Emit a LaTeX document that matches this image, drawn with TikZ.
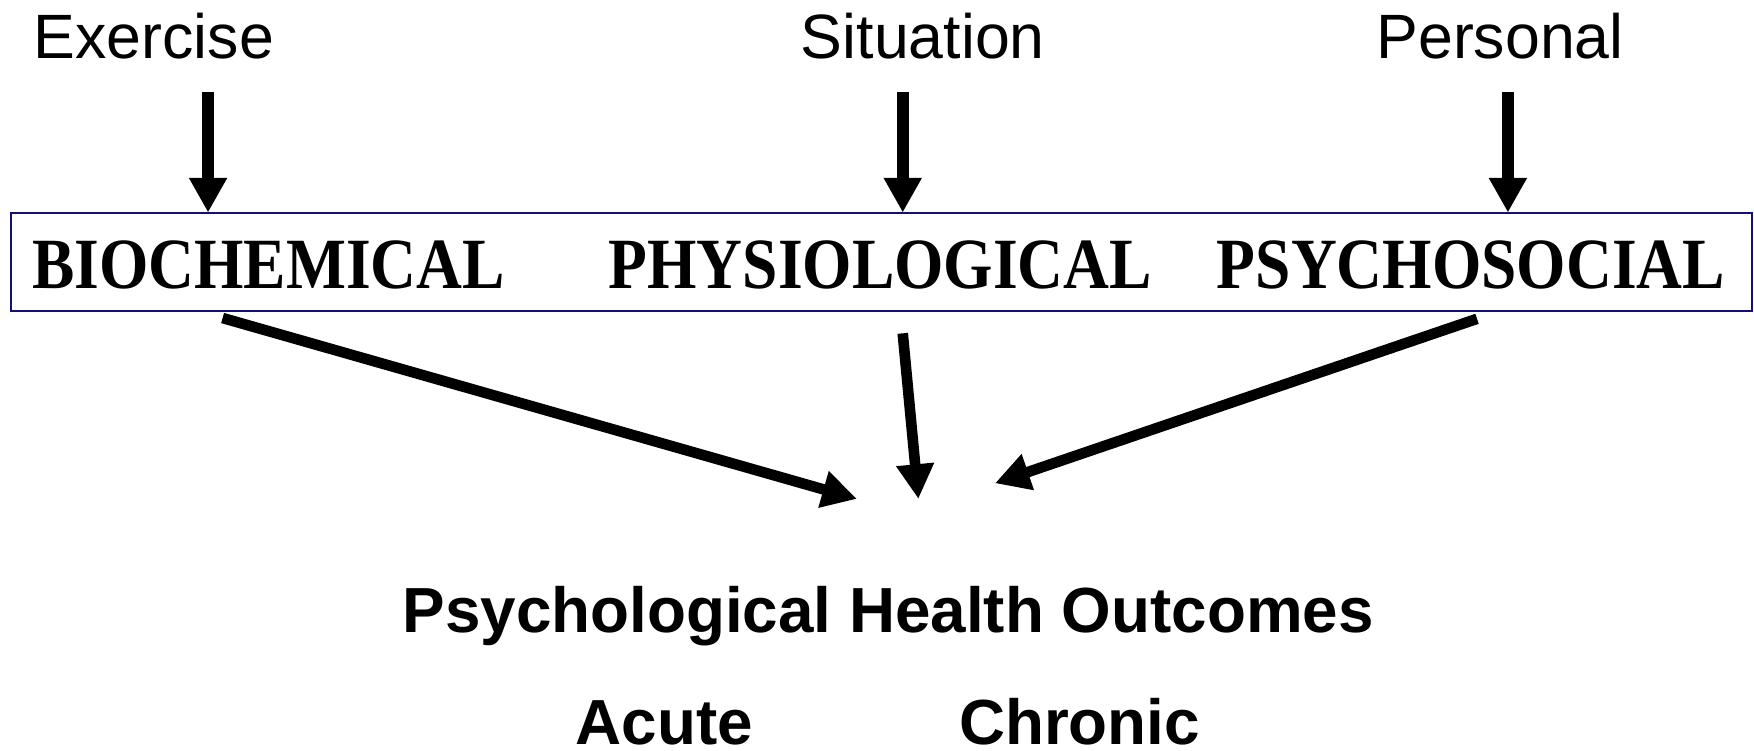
\documentclass[tikz,border=0pt]{standalone}
\usepackage{fontspec}
\setmainfont{Liberation Sans}
\newfontfamily\boxfont[FakeStretch=0.88]{Liberation Serif}
\usetikzlibrary{arrows.meta}
\definecolor{framenavy}{RGB}{16,16,120}

\begin{document}
\begin{tikzpicture}[x=1pt,y=-1pt,
  factor/.style={anchor=base, inner sep=0pt, font=\fontsize{56}{60}\selectfont},
  level/.style={anchor=base, inner sep=0pt, font=\boxfont\bfseries\fontsize{64.5}{70}\selectfont},
  outcome/.style={anchor=base, inner sep=0pt, font=\bfseries\fontsize{57}{60}\selectfont},
  inarrow/.style={line width=11pt, -{Triangle[width=32pt,length=31pt]}},
  outarrow/.style={line width=9.5pt, -{Triangle[width=32pt,length=31pt]}}]

% 1. Fix the size of the picture
\useasboundingbox (0,0) rectangle (1568,671);

% 2. The three factors on top
\node[factor] (exercise) at (137.5,52) {Exercise};
\node[factor] (situation) at (825,52) {Situation};
\node[factor] (personal) at (1341,52) {Personal};

% 3. The frame with the three mechanisms
\node[draw=framenavy, line width=1.8pt, inner sep=0pt, outer sep=0pt,
      minimum width=1556pt, minimum height=88pt] (frame) at (788,234) {};
\node[level] (bio) at (240,258) {BIOCHEMICAL};
\node[level] (physio) at (787,258) {PHYSIOLOGICAL};
\node[level] (psycho) at (1315,258) {PSYCHOSOCIAL};

% 4. The outcomes below
\node[outcome] (outcomes) at (794,565) {Psychological Health Outcomes};
\node[outcome] (acute) at (594,665.5) {Acute};
\node[outcome] (chronic) at (965,665.5) {Chronic};

% 5. Arrows down into the frame
\coordinate (exStart) at (186,82);
\coordinate (siStart) at (807,82);
\coordinate (peStart) at (1348,82);
\draw[inarrow] (exStart) -- (exStart |- frame.north);
\draw[inarrow] (siStart) -- (siStart |- frame.north);
\draw[inarrow] (peStart) -- (peStart |- frame.north);

% 6. Arrows from the frame towards the outcomes
\coordinate (bioFoot) at (199,284.3);
\coordinate (physioFoot) at (807,298);
\coordinate (psychoFoot) at (1320.4,285);
\coordinate (bioTip) at (766,446);
\coordinate (physioTip) at (821,446);
\coordinate (psychoTip) at (889.5,432);
\draw[outarrow] (bioFoot) -- (bioTip);
\draw[outarrow] (physioFoot) -- (physioTip);
\draw[outarrow] (psychoFoot) -- (psychoTip);

\end{tikzpicture}
\end{document}
